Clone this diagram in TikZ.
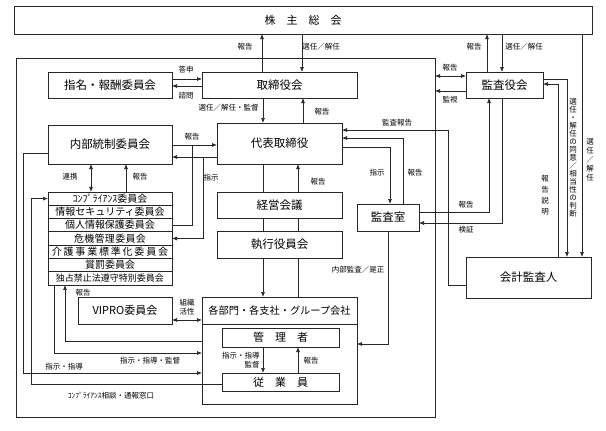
\documentclass[tikz,border=0pt]{standalone}
\usepackage{fontspec}
\setmainfont{Noto Sans CJK JP}
\usetikzlibrary{positioning, arrows.meta}

\begin{document}
\begin{tikzpicture}[x=1pt, y=-1pt, >={Latex[length=5pt,width=4pt]}, line width=0.7pt, draw=black!85,
    box/.style={draw, fill=white, inner sep=0pt, outer sep=0pt, font=\fontsize{11.5}{13}\selectfont},
    row/.style={draw, inner sep=0pt, outer sep=0pt, minimum width=124pt, minimum height=13.29pt,
        font=\fontsize{10}{12}\selectfont},
    lbl/.style={inner sep=0pt, font=\fontsize{7.5}{9}\selectfont},
    vlbl/.style={inner sep=0pt, align=center, font=\fontsize{7.5}{8}\selectfont}]
    \useasboundingbox (0,0) rectangle (606,431);

    % Boxes
    \node[box, minimum width=578pt, minimum height=28pt, font=\fontsize{11}{13}\selectfont] (soukai) at (303,20) {株　主　総　会};
    \node[draw, inner sep=0pt, outer sep=0pt, minimum width=419pt, minimum height=359pt] (company) at (225.5,237.5) {};
    \node[box, minimum width=124pt, minimum height=26pt] (shimei) at (110,85) {指名・報酬委員会};
    \node[box, minimum width=155pt, minimum height=26pt] (torishimari) at (279.5,85) {取締役会};
    \node[box, minimum width=77pt, minimum height=26pt] (kansayaku) at (504.5,85) {監査役会};
    \node[box, minimum width=124pt, minimum height=39pt] (naibu) at (110,144.5) {内部統制委員会};
    \node[box, minimum width=125pt, minimum height=41pt] (daihyo) at (279.5,143.5) {代表取締役};
    \node[box, minimum width=125pt, minimum height=26pt] (keiei) at (279.5,205) {経営会議};
    \node[box, minimum width=125pt, minimum height=27pt] (shikko) at (279.5,244.5) {執行役員会};
    \node[box, minimum width=62pt, minimum height=27pt] (kansashitsu) at (388,217.5) {監査室};
    \node[box, minimum width=125pt, minimum height=41pt] (kaikei) at (528.5,277.5) {会計監査人};

    % Committees
    \node[row] (c1) at (110,198.6) {ｺﾝﾌﾟﾗｲｱﾝｽ委員会};
    \node[row] (c2) [below=0pt of c1] {情報セキュリティ委員会};
    \node[row] (c3) [below=0pt of c2] {個人情報保護委員会};
    \node[row] (c4) [below=0pt of c3] {\addfontfeature{LetterSpace=3}危機管理委員会};
    \node[row] (c5) [below=0pt of c4] {\addfontfeature{LetterSpace=18}介護事業標準化委員会};
    \node[row] (c6) [below=0pt of c5] {賞罰委員会};
    \node[row] (c7) [below=0pt of c6] {\fontsize{9}{11}\selectfont 独占禁止法遵守特別委員会};

    \node[box, minimum width=94pt, minimum height=27pt, font=\fontsize{11}{13}\selectfont] (vipro) at (125,310.5) {VIPRO委員会};
    \node[draw, inner sep=0pt, outer sep=0pt, minimum width=155pt, minimum height=107pt] (bumon) at (279.5,350.5) {};
    \node[inner sep=0pt, font=\fontsize{10.2}{12}\selectfont] (bumonhead) at (279.5,311) {各部門・各支社・グループ会社};
    \draw ([yshift=-27pt]bumon.north west) -- ([yshift=-27pt]bumon.north east);
    \node[box, minimum width=117pt, minimum height=19pt, font=\fontsize{11}{13}\selectfont] (kanri) at (280.5,337.5) {管　理　者};
    \node[box, minimum width=117pt, minimum height=18pt, font=\fontsize{11}{13}\selectfont] (jugyo) at (280.5,382) {従　業　員};

    % Junctions
    \coordinate (jshiji) at (203,157);
    \coordinate (jhoukoku) at (192,145);

    % Shareholders
    \draw[->] (262,0 |- torishimari.north) -- (262,0 |- soukai.south);
    \draw[->] (302,0 |- soukai.south) -- (302,0 |- torishimari.north);
    \draw[->] (487,0 |- kansayaku.north) -- (487,0 |- soukai.south);
    \draw[->] (502,0 |- soukai.south) -- (502,0 |- kansayaku.north);
    \draw[->] (582,0 |- soukai.south) -- (582,0 |- kaikei.north);

    % Board
    \draw[->] (shimei.east |- 0,79) -- (torishimari.west |- 0,79);
    \draw[->] (torishimari.west |- 0,86) -- (shimei.east |- 0,86);
    \draw[->] (263,0 |- torishimari.south) -- (263,0 |- daihyo.north);
    \draw[->] (303,0 |- daihyo.north) -- (303,0 |- torishimari.south);
    \draw[<->] (company.east |- 0,76) -- (kansayaku.west |- 0,76);
    \draw[->] (kansayaku.west |- 0,91) -- (company.east |- 0,91);

    % Internal control
    \draw[->] (naibu.east |- 0,145) -- (daihyo.west |- 0,145);
    \draw (c3.east) -| (jhoukoku);
    \draw[->] (daihyo.west |- jshiji) -- (naibu.east |- jshiji);
    \draw[->] (jshiji) |- (c4.east);
    \draw[<->] (91,0 |- naibu.south) -- (91,0 |- c1.north);
    \draw[->] (126,0 |- c1.north) -- (126,0 |- naibu.south);

    % Execution line
    \draw (263,0 |- daihyo.south) -- (263,0 |- keiei.north) (263,0 |- keiei.south) -- (263,0 |- shikko.north);
    \draw[->] (263,0 |- shikko.south) -- (263,0 |- bumon.north);
    \draw (298,0 |- bumon.north) -- (298,0 |- shikko.south) (298,0 |- shikko.north) -- (298,0 |- keiei.south);
    \draw[->] (298,0 |- keiei.north) -- (298,0 |- daihyo.south);

    % Audit
    \draw[->] (kaikei.west |- 0,285) -| (448,130) -- (daihyo.east |- 0,130);
    \draw[->] (403,0 |- kansashitsu.north) |- (daihyo.east |- 0,138);
    \draw[->] (daihyo.east |- 0,147) -| (390,0 |- kansashitsu.north);
    \draw[->] (kansashitsu.east |- 0,212) -| (489,0 |- kansayaku.south);
    \draw[->] (502,0 |- kansayaku.south) |- (kansashitsu.east |- 0,223);
    \draw[->] (kansashitsu.south) |- (bumon.east |- 0,344);
    \draw[->] (kansayaku.east |- 0,79) -| (567,0 |- kaikei.north);
    \draw[->] (558,0 |- kaikei.north) |- (kansayaku.east |- 0,84);

    % Departments
    \draw[<->] (vipro.east |- 0,320) -- (bumon.west |- 0,320);
    \draw[->] (bumon.west |- 0,341) -| (65,0 |- c7.south);
    \draw[->] (54,0 |- c7.south) |- (bumon.west |- 0,353);
    \draw[->] (naibu.west |- 0,153) -| (23,373) -- (bumon.west |- 0,373);
    \draw[->] (jugyo.west |- 0,384) -| (31,0 |- c1.west) -- (c1.west);
    \draw[->] (263,0 |- kanri.south) -- (263,0 |- jugyo.north);
    \draw[->] (298,0 |- jugyo.north) -- (298,0 |- kanri.south);

    % Labels
    \node[lbl] (l1) at (245,47) {報告};
    \node[lbl] (l2) at (321,47) {選任／解任};
    \node[lbl] (l3) at (474,47) {報告};
    \node[lbl] (l4) at (524,47) {選任／解任};
    \node[lbl] (l5) at (186,70) {答申};
    \node[lbl] (l6) at (186,96) {諮問};
    \node[lbl, anchor=east] (l7) at (259,108) {選任／解任・監督};
    \node[lbl] (l8) at (322,112) {報告};
    \node[lbl] (l9) at (450,68) {報告};
    \node[lbl] (l10) at (450,100) {監視};
    \node[lbl] (l11) at (397,123) {監査報告};
    \node[lbl] (l12) at (192,137) {報告};
    \node[lbl] (l13) at (211,178) {指示};
    \node[lbl] (l14) at (70,177) {連携};
    \node[lbl] (l15) at (140,177) {報告};
    \node[lbl] (l16) at (318,182) {報告};
    \node[lbl] (l17) at (377,173) {指示};
    \node[lbl] (l18) at (415,173) {報告};
    \node[lbl] (l19) at (466,205) {報告};
    \node[lbl] (l20) at (466,230) {検証};
    \node[lbl] (l21) at (358,270) {内部監査／是正};
    \node[vlbl, font=\fontsize{7.5}{11}\selectfont] (l22) at (545,195) {報\\告\\説\\明};
    \node[vlbl] (l23) at (573,157.5) {選\\任\\・\\解\\任\\の\\同\\意\\／\\相\\当\\性\\の\\判\\断};
    \node[vlbl, font=\fontsize{7.5}{9}\selectfont] (l24) at (590,160) {選\\任\\／\\解\\任};
    \node[lbl] (l25) at (83,293) {報告};
    \node[vlbl, font=\fontsize{7.5}{9.5}\selectfont] (l26) at (187,307) {組織\\活性};
    \node[lbl] (l27) at (150,361) {指示・指導・監督};
    \node[lbl] (l28) at (64,367) {指示・指導};
    \node[lbl] (l29) at (111,396) {ｺﾝﾌﾟﾗｲｱﾝｽ相談・通報窓口};
    \node[vlbl, align=right, anchor=east, font=\fontsize{7.5}{9.5}\selectfont] (l30) at (260,360) {指示・指導\\監督};
    \node[lbl] (l31) at (311,361) {報告};
\end{tikzpicture}
\end{document}
